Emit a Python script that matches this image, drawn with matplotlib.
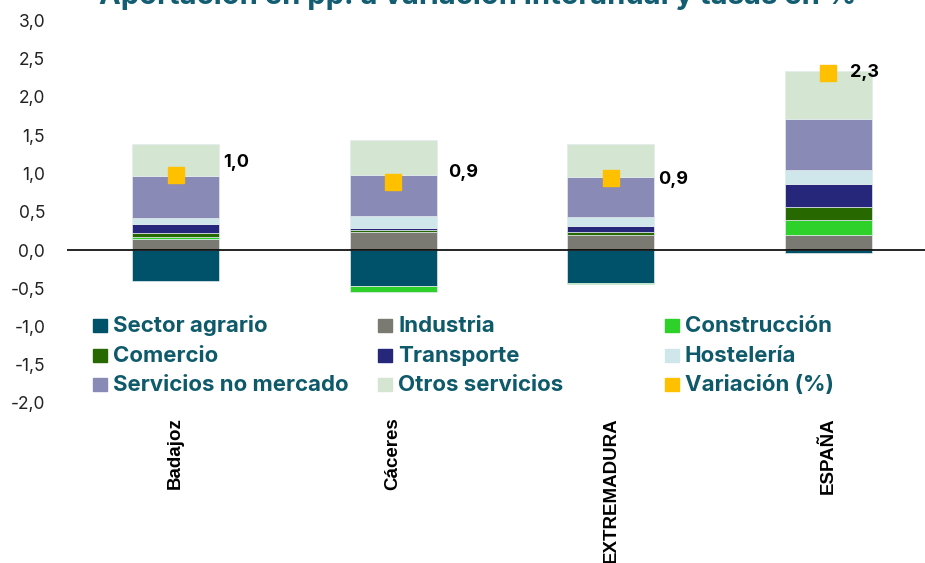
import numpy as np
import matplotlib.pyplot as plt
from matplotlib.patches import Rectangle

# categories and contributions (pp.)
regiones = ['Badajoz', 'Cáceres', 'EXTREMADURA', 'ESPAÑA']
sector_agrario = [-0.41, -0.47, -0.43, -0.035]
industria = [0.145, 0.24, 0.19, 0.19]
construccion = [0.03, -0.083, -0.02, 0.205]
comercio = [0.045, 0.02, 0.04, 0.165]
transporte = [0.12, 0.03, 0.09, 0.30]
hosteleria = [0.075, 0.155, 0.105, 0.19]
servicios_no_mercado = [0.555, 0.53, 0.535, 0.665]
otros_servicios = [0.41, 0.46, 0.43, 0.625]
variacion = [0.98, 0.89, 0.94, 2.31]
etiquetas_var = ['1,0', '0,9', '0,9', '2,3']
yticks = [-2.0, -1.5, -1.0, -0.5, 0.0, 0.5, 1.0, 1.5, 2.0, 2.5, 3.0]

series = [
    ('Sector agrario', sector_agrario, '#00516a'),
    ('Industria', industria, '#7a7a72'),
    ('Construcción', construccion, '#2ed12a'),
    ('Comercio', comercio, '#286800'),
    ('Transporte', transporte, '#26267a'),
    ('Hostelería', hosteleria, '#cfe6ea'),
    ('Servicios no mercado', servicios_no_mercado, '#8a8ab6'),
    ('Otros servicios', otros_servicios, '#d4e5d2'),
]
col_var = '#ffc000'
txt_col = '#0e5a6b'

W, H = 925, 563
fig = plt.figure(figsize=(W / 100, H / 100), dpi=100)
ax = fig.add_axes([66.7 / W, (H - 403) / H, (W - 66.7) / W, 382.5 / H])

x = np.arange(len(regiones))
pos = np.zeros(len(regiones))
neg = np.zeros(len(regiones))
for name, vals, col in series:
    vals = np.array(vals)
    bottom = np.where(vals >= 0, pos, neg)
    ax.bar(x, vals, 0.4, bottom=bottom, color=col, edgecolor='#e3ebee',
           linewidth=0.5, zorder=2)
    pos = pos + np.where(vals >= 0, vals, 0)
    neg = neg + np.where(vals < 0, vals, 0)

ax.axhline(0, color='black', lw=1.2, zorder=3)
ax.plot(x, variacion, 's', color=col_var, ms=11.5, mec=col_var, zorder=4)

# data labels (offsets in pixels from the marker)
offsets = [(48, 13), (55, 9), (47, -1), (22, 1)]
for xi, v, lab, off in zip(x, variacion, etiquetas_var, offsets):
    ax.annotate(lab, (xi, v), xytext=off, textcoords='offset pixels',
                ha='left', va='center', fontsize=13, fontweight='bold',
                family='Inter', color='black', zorder=5)

ax.set_xlim(-0.5, 3.444)
ax.set_ylim(-2, 3)
ax.set_yticks(yticks)
ax.set_yticklabels([f'{t:.1f}'.replace('.', ',') for t in yticks],
                   family='Inter', fontsize=12.5, color='#222222')
ax.set_xticks(x)
ax.set_xticklabels(regiones, rotation=90, family='Liberation Sans',
                   fontweight='bold', fontsize=13.5, color='black')
ax.tick_params(axis='y', length=0, pad=15.5)
ax.tick_params(axis='x', length=0, pad=10)
for s in ax.spines.values():
    s.set_visible(False)
ax.patch.set_alpha(0)

# legend drawn by hand (3 columns, row-wise order)
leg_items = [(n, c) for n, v, c in series] + [('Variación (%)', col_var)]
col_x = [93, 378, 665]
row_base = [331.5, 361.5, 391]
for i, (name, col) in enumerate(leg_items):
    r, c = divmod(i, 3)
    mx = col_x[c]
    yb = row_base[r]
    fig.add_artist(Rectangle((mx / W, (H - yb) / H), 14 / W, 13 / H,
                             transform=fig.transFigure, color=col))
    fig.text((mx + 20) / W, (H - yb) / H, name, ha='left', va='baseline',
             family='Inter', fontweight='bold', fontsize=16, color=txt_col)

# title, cut by the top edge as in the original
fig.text(478 / W, (H - 3.5) / H,
         'Aportación en pp. a variación interanual y tasas en %',
         ha='center', va='baseline', family='Inter', fontweight='bold',
         fontsize=21, color='#125d72')

fig.savefig('out.png', dpi=100)
